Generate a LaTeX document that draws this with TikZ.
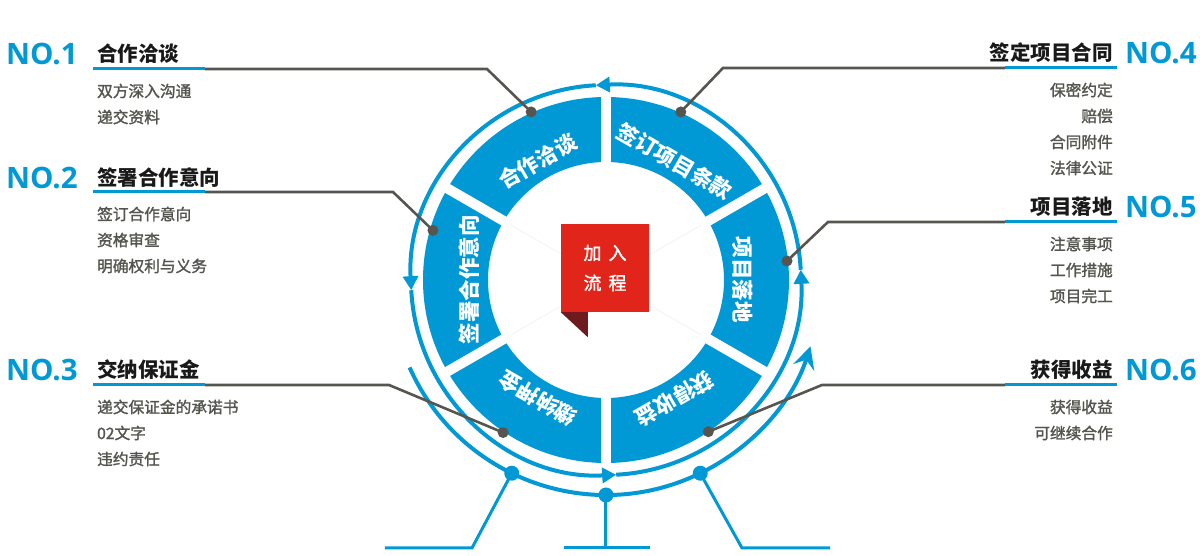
\documentclass[tikz,border=0pt]{standalone}
\usepackage{fontspec}
\setmainfont{Open Sans}
\newfontfamily\cjk{Noto Sans CJK SC}
\newfontfamily\cjkmid[FakeBold=1.6]{Noto Sans CJK SC}
\usepackage{tikz}
\usetikzlibrary{positioning,arrows.meta}
\definecolor{wheelblue}{HTML}{0099D5}
\definecolor{leadgray}{HTML}{56554F}
\definecolor{itemgray}{HTML}{55554F}
\definecolor{tagred}{HTML}{E1251B}
\definecolor{tagdark}{HTML}{6D1B1F}

\begin{document}
\begin{tikzpicture}[x=1pt,y=1pt,node distance=26pt,
    num/.style={font=\bfseries\fontsize{29.5}{29.5}\selectfont,text=wheelblue,inner sep=0pt},
    ttl/.style={font=\cjk\bfseries\fontsize{20.5}{20.5}\selectfont,text=black!90,inner sep=0pt},
    item/.style={font=\cjkmid\fontsize{15.7}{15.7}\selectfont,text=itemgray,inner sep=0pt},
    seg/.style={font=\cjk\bfseries\fontsize{21.5}{21.5}\selectfont,text=white,inner sep=0pt},
    lead/.style={draw=leadgray,line width=2.6pt},
    uline/.style={draw=wheelblue,line width=3pt},
    dot/.style={circle,fill=leadgray,minimum size=11pt,inner sep=0pt},
    bdot/.style={circle,fill=wheelblue,minimum size=15pt,inner sep=0pt},
    ring/.style={draw=wheelblue,line width=4pt},
    foot/.style={draw=wheelblue,line width=3pt}]
    \useasboundingbox (-606,-276) rectangle (594,280);

    % wheel
    \fill[wheelblue,even odd rule] (0,0) circle (183) (0,0) circle (118);
    \foreach \a in {30,150,210,330}
        \draw[black!5,line width=0.8pt] (\a:40) -- (\a:118);
    \foreach \a in {30,90,...,330}
        \draw[white,line width=10pt] (\a:110) -- (\a:189);
    \foreach \a/\txt [count=\i] in {120/合作洽谈,60/签订项目条款,0/项目落地,-60/获得收益,-120/缴纳押金,180/签署合作意向}
        \node[seg,rotate=\a-90] (s\i) at (\a:137) {\txt};

    % tag
    \node[fill=tagred,minimum width=88pt,minimum height=88pt,inner sep=0pt,align=center,
        text=white,font=\cjkmid\fontsize{18}{30}\selectfont] (tag) at (-1,12) {加\hspace{7pt}入\\流\hspace{7pt}程};
    \fill[tagdark] (tag.south west) -- ++(27,0) -- ++(0,-25) -- cycle;

    % rings
    \foreach \a in {0,90,180,270}
        \draw[ring,-{Triangle[width=15pt,length=14pt]}] (\a-87:195) arc[start angle=\a-87,end angle=\a+3,radius=195];
    \draw[ring,-{Stealth[width=22pt,length=22pt,inset=8pt]}] (-156:215) arc[start angle=-156,end angle=-18,radius=215];

    % feet
    \node[bdot] (f1) at (-116:215) {};
    \node[bdot] (f2) at (-90:215) {};
    \node[bdot] (f3) at (-64:215) {};
    \coordinate (k1) at (-134,-268);
    \coordinate (e1) at (-221,-268);
    \coordinate (k2) at (0,-268);
    \coordinate (e2a) at (-42,-268);
    \coordinate (e2b) at (44,-268);
    \coordinate (k3) at (136,-268);
    \coordinate (e3) at (224,-268);
    \draw[foot] (f1.center) -- (k1) -- (e1);
    \draw[foot] (f2.center) -- (k2);
    \draw[foot] (e2a) -- (e2b);
    \draw[foot] (f3.center) -- (k3) -- (e3);

    % leaders
    \node[dot] (d1) at (114:184) {};
    \node[dot] (d2) at (164:180) {};
    \node[dot] (d3) at (-124:184) {};
    \node[dot] (d4) at (66:184) {};
    \node[dot] (d5) at (6:182) {};
    \node[dot] (d6) at (-56:183) {};
    \coordinate (b1) at (-119,211);
    \coordinate (b2) at (-213,88);
    \coordinate (b3) at (-217,-105);
    \coordinate (b4) at (117,212);
    \coordinate (b5) at (222,58);
    \coordinate (b6) at (216,-105);
    \coordinate (u1) at (-401,211);
    \coordinate (u2) at (-401,88);
    \coordinate (u3) at (-401,-105);
    \coordinate (u4) at (399,212);
    \coordinate (u5) at (399,58);
    \coordinate (u6) at (399,-105);
    \coordinate (a1) at (-513,211);
    \coordinate (a2) at (-513,88);
    \coordinate (a3) at (-513,-105);
    \coordinate (a4) at (511,212);
    \coordinate (a5) at (511,58);
    \coordinate (a6) at (511,-105);
    \foreach \i in {1,...,6} {
        \draw[lead] (d\i.center) -- (b\i) -- (u\i);
        \draw[uline] (a\i) -- (u\i);
    }

    % left texts
    \node[num,anchor=west] (n1) at (-600,226) {NO.1};
    \node[ttl] (t1) [right=19pt of n1.east,anchor=west] {合作洽谈};
    \node[item] (i11) [below=37pt of t1.west,anchor=west] {双方深入沟通};
    \node[item] (i12) [below=of i11.west,anchor=west] {递交资料};

    \node[num,anchor=west] (n2) at (-600,102) {NO.2};
    \node[ttl] (t2) [right=19pt of n2.east,anchor=west] {签署合作意向};
    \node[item] (i21) [below=36pt of t2.west,anchor=west] {签订合作意向};
    \node[item] (i22) [below=of i21.west,anchor=west] {资格审查};
    \node[item] (i23) [below=of i22.west,anchor=west] {明确权利与义务};

    \node[num,anchor=west] (n3) at (-600,-90) {NO.3};
    \node[ttl] (t3) [right=19pt of n3.east,anchor=west] {交纳保证金};
    \node[item] (i31) [below=37pt of t3.west,anchor=west] {递交保证金的承诺书};
    \node[item] (i32) [below=of i31.west,anchor=west] {02文字};
    \node[item] (i33) [below=of i32.west,anchor=west] {违约责任};

    % right texts
    \node[num,anchor=west] (n4) at (519,227) {NO.4};
    \node[ttl] (t4) [left=12pt of n4.west,anchor=east] {签定项目合同};
    \node[item] (i41) [below=37pt of t4.east,anchor=east] {保密约定};
    \node[item] (i42) [below=of i41.east,anchor=east] {赔偿};
    \node[item] (i43) [below=of i42.east,anchor=east] {合同附件};
    \node[item] (i44) [below=of i43.east,anchor=east] {法律公证};

    \node[num,anchor=west] (n5) at (519,73) {NO.5};
    \node[ttl] (t5) [left=12pt of n5.west,anchor=east] {项目落地};
    \node[item] (i51) [below=37pt of t5.east,anchor=east] {注意事项};
    \node[item] (i52) [below=of i51.east,anchor=east] {工作措施};
    \node[item] (i53) [below=of i52.east,anchor=east] {项目完工};

    \node[num,anchor=west] (n6) at (519,-90) {NO.6};
    \node[ttl] (t6) [left=12pt of n6.west,anchor=east] {获得收益};
    \node[item] (i61) [below=37pt of t6.east,anchor=east] {获得收益};
    \node[item] (i62) [below=of i61.east,anchor=east] {可继续合作};
\end{tikzpicture}
\end{document}
